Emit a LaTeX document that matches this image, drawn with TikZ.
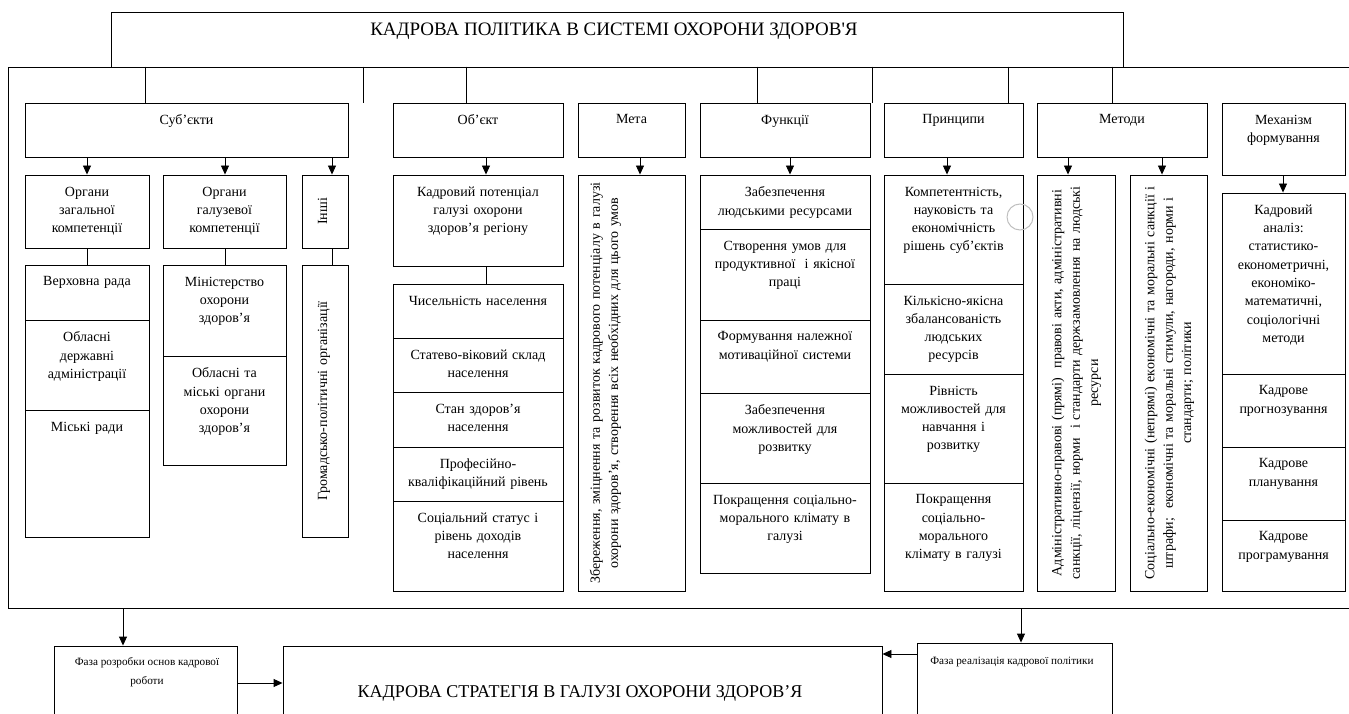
\documentclass[tikz,border=0pt]{standalone}
\usepackage{fontspec}
\setmainfont{Liberation Serif}
\usetikzlibrary{arrows.meta,calc}
\tikzset{
  bx/.style={draw, line width=0.9pt, inner sep=0pt, rectangle},
  txt/.style={inner sep=0pt, align=center, font=\fontsize{14}{18.3}\selectfont},
  smalltxt/.style={inner sep=0pt, align=center, font=\fontsize{11.2}{19}\selectfont},
  arr/.style={line width=0.9pt, -{Triangle[length=9pt,width=8pt]}},
  ln/.style={line width=0.9pt},
  mark circle/.style={draw=black!25, line width=1pt, circle, minimum size=26pt, inner sep=0pt},
}
% box with text at top
\newcommand\Bx[6]{%
  \pgfmathsetmacro\bw{#4-#2}\pgfmathsetmacro\bh{#5-#3}\pgfmathsetmacro\tw{#4-#2-6}%
  \node[bx, minimum width=\bw pt, minimum height=\bh pt] (#1) at ({(#2+#4)/2},{(#3+#5)/2}) {};%
  \node[txt, text width=\tw pt, anchor=north] (#1t) at ($(#1.north)+(0,12)$) {#6};}
% box with rotated text; #7 = offset of text top from left edge
\newcommand\Rx[7]{%
  \pgfmathsetmacro\bw{#4-#2}\pgfmathsetmacro\bh{#5-#3}\pgfmathsetmacro\tw{#5-#3-10}%
  \node[bx, minimum width=\bw pt, minimum height=\bh pt] (#1) at ({(#2+#4)/2},{(#3+#5)/2}) {};%
  \node[txt, text width=\tw pt, rotate=90, anchor=north] (#1t) at ($(#1.west)+(#7,0)$) {#6};}
\begin{document}
\begin{tikzpicture}[x=1pt,y=-1pt]
\useasboundingbox (0,0) rectangle (1349,714);
\clip (0,0) rectangle (1349,714);
% title and outer frame
\node[bx, minimum width=1012pt, minimum height=55pt] (title) at (617,39.5) {};
\node[txt, font=\fontsize{19}{22}\selectfont] (titlet) at (614,31) {КАДРОВА ПОЛІТИКА В СИСТЕМІ ОХОРОНИ ЗДОРОВ\textquotesingle Я};
\node[bx, minimum width=1346pt, minimum height=541pt] (outer) at (681,337.5) {};

% headers
\Bx{subj}{25}{103}{348}{157}{Суб’єкти}
\Bx{obj}{393}{103}{563}{157}{Об’єкт}
\Bx{meta}{578}{103}{685}{157}{Мета}
\Bx{func}{700}{103}{870}{157}{Функції}
\Bx{princ}{884}{103}{1023}{157}{Принципи}
\Bx{meth}{1037}{103}{1207}{157}{Методи}
\Bx{mech}{1222}{103}{1345}{175}{Механізм\\формування}

\foreach \xx/\nd in {145/subj,363/obj,466/meta,757/func,872/princ,1008/meth,1112/mech}
  \draw[ln] (outer.north -| \xx,0) -- (\nd.north -| \xx,0);

% subjects
\Bx{org1}{25}{175}{149}{248}{Органи\\загальної\\компетенції}
\Bx{org2}{163}{175}{286}{248}{Органи\\галузевої\\компетенції}
\Rx{inshi}{302}{175}{348}{248}{Інші}{16}
\Bx{vr}{25}{265}{149}{320}{Верховна рада}
\Bx{oda}{25}{320}{149}{410}{Обласні\\державні\\адміністрації}
\Bx{mr}{25}{410}{149}{537}{Міські ради}
\Bx{moz}{163}{265}{286}{356}{Міністерство\\охорони\\здоров’я}
\Bx{omo}{163}{356}{286}{465}{Обласні та\\міські органи\\охорони\\здоров’я}
\Rx{gpo}{302}{265}{348}{537}{Громадсько-політичні організації}{16}
\draw[arr] (subj.south -| 87,0) -- (org1.north -| 87,0);
\draw[arr] (subj.south -| 225,0) -- (org2.north -| 225,0);
\draw[arr] (subj.south -| 332,0) -- (inshi.north -| 332,0);
\draw[ln] (org1.south) -- (vr.north);
\draw[ln] (org2.south -| 225,0) -- (moz.north -| 225,0);
\draw[ln] (inshi.south -| 332,0) -- (gpo.north -| 332,0);

% object
\Bx{kp}{393}{175}{563}{266}{Кадровий потенціал\\галузі охорони\\здоров’я регіону}
\Bx{ch}{393}{284}{563}{338}{Чисельність населення}
\Bx{sv}{393}{338}{563}{392}{Статево-віковий склад\\населення}
\Bx{sz}{393}{392}{563}{447}{Стан здоров’я\\населення}
\Bx{pk}{393}{447}{563}{501}{Професійно-\\кваліфікаційний рівень}
\Bx{ss}{393}{501}{563}{591}{Соціальний статус і\\рівень доходів\\населення}
\draw[arr] (obj.south -| 486,0) -- (kp.north -| 486,0);
\draw[ln] (kp.south -| 486,0) -- (ch.north -| 486,0);

% goal
\Rx{mb}{578}{175}{685}{591}{Збереження, зміцнення та розвиток кадрового потенціалу в галузі\\охорони здоров’я, створення всіх необхідних для цього умов}{12}
\draw[arr] (meta.south -| 640,0) -- (mb.north -| 640,0);

% functions
\Bx{f1}{700}{175}{870}{229}{Забезпечення\\людськими ресурсами}
\Bx{f2}{700}{229}{870}{320}{Створення умов для\\продуктивної\ \ і якісної\\праці}
\Bx{f3}{700}{320}{870}{393}{Формування належної\\мотиваційної системи}
\Bx{f4}{700}{393}{870}{483}{Забезпечення\\можливостей для\\розвитку}
\Bx{f5}{700}{483}{870}{573}{Покращення соціально-\\морального клімату в\\галузі}
\draw[arr] (func.south -| 790,0) -- (f1.north -| 790,0);

% principles
\Bx{p1}{884}{175}{1023}{284}{Компетентність,\\науковість та\\економічність\\рішень суб’єктів}
\Bx{p2}{884}{284}{1023}{374}{Кількісно-якісна\\збалансованість\\людських\\ресурсів}
\Bx{p3}{884}{374}{1023}{483}{Рівність\\можливостей для\\навчання і\\розвитку}
\Bx{p4}{884}{483}{1023}{591}{Покращення\\соціально-\\морального\\клімату в галузі}
\draw[arr] (princ.south -| 947,0) -- (p1.north -| 947,0);
\node[mark circle] (mk) at (1020,217) {};

% methods
\Rx{m1}{1037}{175}{1115}{591}{Адміністративно-правові (прямі)\ \ правові акти, адміністративні\\санкції, ліцензії, норми\ \ і стандарти держзамовлення на людські\\ресурси}{15}
\Rx{m2}{1130}{175}{1207}{591}{Соціально-економічні (непрямі) економічні та моральні санкції і\\штрафи;\ \ економічні та моральні стимули, нагороди, норми і\\стандарти; політики}{15}
\draw[arr] (meth.south -| 1068,0) -- (m1.north -| 1068,0);
\draw[arr] (meth.south -| 1162,0) -- (m2.north -| 1162,0);

% mechanism
\Bx{k1}{1222}{193}{1345}{374}{Кадровий\\аналіз:\\статистико-\\економетричні,\\економіко-\\математичні,\\соціологічні\\методи}
\Bx{k2}{1222}{374}{1345}{447}{Кадрове\\прогнозування}
\Bx{k3}{1222}{447}{1345}{520}{Кадрове\\планування}
\Bx{k4}{1222}{520}{1345}{591}{Кадрове\\програмування}
\draw[arr] (mech.south -| 1283,0) -- (k1.north -| 1283,0);

% bottom phases
\node[bx, minimum width=183pt, minimum height=114pt] (fr) at (145.5,703) {};
\node[smalltxt, anchor=north] (frt) at (147,657) {Фаза розробки основ кадрової\\роботи};
\node[bx, minimum width=599pt, minimum height=114pt] (ks) at (582.5,703) {};
\node[txt, font=\fontsize{18}{20}\selectfont] (kst) at (580,693) {КАДРОВА СТРАТЕГІЯ В ГАЛУЗІ ОХОРОНИ ЗДОРОВ’Я};
\node[bx, minimum width=195pt, minimum height=117pt] (fz) at (1014.5,701.5) {};
\node[smalltxt, anchor=north] (fzt) at (1012,657) {Фаза реалізація кадрової політики};
\draw[arr] (outer.south -| 123,0) -- (fr.north -| 123,0);
\draw[arr] (outer.south -| 1021,0) -- (fz.north -| 1021,0);
\draw[arr] (fr.east |- 0,683) -- (ks.west |- 0,683);
\draw[arr] (fz.west |- 0,654) -- (ks.east |- 0,654);
\end{tikzpicture}
\end{document}
